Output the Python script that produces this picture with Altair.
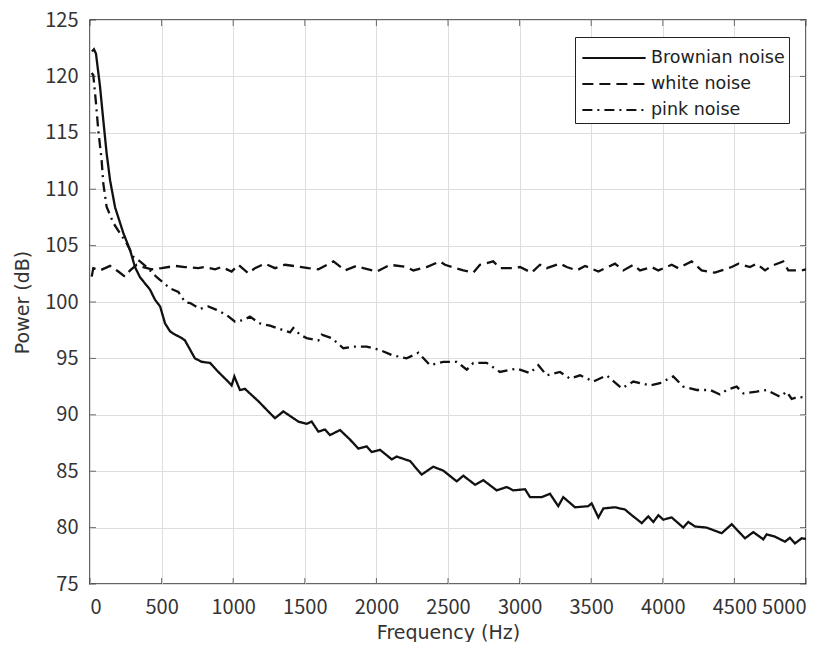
import altair as alt
import pandas as pd

# ---- data ----
brown_f = [14, 28, 42, 70, 93, 116, 140, 175, 233, 280, 314, 349, 419, 454, 490, 524, 559, 582,
           640, 663, 733, 780, 838, 896, 960, 989, 1008, 1047, 1082, 1176, 1245, 1292, 1350,
           1385, 1455, 1513, 1548, 1595, 1641, 1676, 1746, 1816, 1874, 1932, 1967, 2025, 2107,
           2141, 2235, 2316, 2397, 2467, 2561, 2607, 2689, 2747, 2840, 2910, 2956, 3038, 3073,
           3154, 3212, 3270, 3305, 3387, 3480, 3503, 3550, 3585, 3666, 3736, 3783, 3853, 3899,
           3934, 3969, 4004, 4062, 4143, 4178, 4225, 4306, 4411, 4481, 4574, 4632, 4702, 4725,
           4783, 4853, 4888, 4923, 4970, 5000]
brown_db = [122.2, 122.4, 122.0, 119.1, 116.1, 113.2, 110.8, 108.4, 106.1, 104.6, 103.1, 102.2,
            101.1, 100.2, 99.6, 98.1, 97.4, 97.2, 96.8, 96.6, 95.0, 94.7, 94.6, 93.8, 93.0, 92.6,
            93.4, 92.2, 92.3, 91.2, 90.3, 89.7, 90.3, 90.0, 89.4, 89.2, 89.4, 88.5, 88.7, 88.2,
            88.65, 87.8, 87.0, 87.2, 86.7, 86.9, 86.05, 86.3, 85.9, 84.7, 85.4, 85.05, 84.1, 84.6,
            83.8, 84.2, 83.3, 83.6, 83.3, 83.4, 82.7, 82.7, 83.0, 81.9, 82.7, 81.8, 81.9, 82.15,
            80.9, 81.7, 81.8, 81.6, 81.1, 80.4, 81.0, 80.5, 81.1, 80.7, 80.9, 80.0, 80.5, 80.1,
            80.0, 79.5, 80.3, 79.05, 79.6, 78.96, 79.4, 79.2, 78.75, 79.1, 78.6, 79.05, 79.0]

white_f = [12, 23, 70, 140, 198, 244, 280, 326, 372, 431, 500, 594, 663, 756, 803, 873, 919, 989,
           1036, 1106, 1152, 1222, 1292, 1362, 1478, 1525, 1595, 1700, 1781, 1862, 1909, 2002,
           2095, 2211, 2258, 2351, 2444, 2479, 2607, 2677, 2723, 2816, 2863, 2945, 3003, 3084,
           3142, 3189, 3282, 3329, 3399, 3457, 3550, 3666, 3724, 3794, 3841, 3922, 3969, 4062,
           4108, 4201, 4271, 4364, 4411, 4481, 4528, 4609, 4655, 4714, 4760, 4841, 4876, 4970, 5000]
white_db = [102.25, 103.0, 102.8, 103.2, 102.7, 102.25, 102.8, 103.3, 103.1, 102.9, 103.0, 103.2,
            103.1, 103.0, 103.1, 102.9, 103.1, 102.7, 103.3, 102.55, 103.0, 103.4, 103.0, 103.3,
            103.1, 103.0, 102.9, 103.6, 102.8, 103.2, 103.0, 102.7, 103.3, 103.1, 102.8, 103.1,
            103.6, 103.3, 102.8, 102.6, 103.3, 103.6, 103.0, 103.0, 103.1, 102.6, 103.3, 103.0,
            103.4, 103.1, 102.8, 103.2, 102.7, 103.4, 102.8, 103.3, 102.8, 103.1, 102.8, 103.3,
            103.0, 103.6, 102.8, 102.6, 102.8, 103.1, 103.4, 103.1, 103.4, 102.8, 103.2, 103.6,
            102.8, 102.8, 102.9]

pink_f = [12, 23, 42, 58, 81, 93, 116, 163, 209, 256, 303, 349, 396, 466, 559, 617, 663, 700,
          768, 826, 884, 954, 1013, 1071, 1117, 1187, 1257, 1327, 1397, 1420, 1466, 1513, 1595,
          1618, 1688, 1769, 1839, 1932, 2025, 2107, 2211, 2293, 2374, 2467, 2561, 2631, 2677,
          2770, 2863, 2980, 3073, 3131, 3189, 3282, 3352, 3422, 3515, 3608, 3713, 3794, 3911,
          3980, 4073, 4143, 4237, 4330, 4399, 4446, 4516, 4562, 4655, 4725, 4818, 4865, 4900,
          4947, 5000]
pink_db = [120.3, 120.1, 117.6, 115.2, 112.6, 110.5, 108.45, 107.0, 106.1, 105.2, 104.0, 103.6,
           103.1, 102.2, 101.2, 100.9, 100.0, 99.9, 99.4, 99.6, 99.3, 98.85, 98.25, 98.4, 98.7,
           98.1, 97.9, 97.6, 97.3, 97.7, 97.1, 96.8, 96.6, 97.1, 96.8, 95.9, 96.05, 96.05, 95.75,
           95.3, 95.0, 95.5, 94.4, 94.7, 94.7, 94.0, 94.6, 94.6, 93.8, 94.1, 93.7, 94.4, 93.5,
           93.8, 93.2, 93.5, 92.95, 93.5, 92.35, 92.95, 92.6, 92.8, 93.4, 92.5, 92.2, 92.2, 91.8,
           92.2, 92.5, 91.9, 92.05, 92.2, 91.6, 92.05, 91.4, 91.6, 91.5]

series_names = ["Brownian noise", "white noise", "pink noise"]
x_ticks = [0, 500, 1000, 1500, 2000, 2500, 3000, 3500, 4000, 4500, 5000]
y_ticks = [75, 80, 85, 90, 95, 100, 105, 110, 115, 120, 125]

rows = []
for name, fs, ds in zip(series_names, [brown_f, white_f, pink_f], [brown_db, white_db, pink_db]):
    for f, d in zip(fs, ds):
        rows.append({"series": name, "freq": f, "power": d})
df = pd.DataFrame(rows)

NUM_FONT = "Noto Sans CJK JP"
TXT_FONT = "DejaVu Sans"
TXT = "#333333"

xscale = alt.Scale(domain=[0, 5000], nice=False, zero=False)
yscale = alt.Scale(domain=[75, 125], nice=False, zero=False)

lines = alt.Chart(df).mark_line(color="#111111", strokeWidth=2.3, clip=True).encode(
    x=alt.X("freq:Q", scale=xscale,
            axis=alt.Axis(values=x_ticks, title="Frequency (Hz)", format="d",
                          labelPadding=13, titleX=358, titleY=48,
                          titleBaseline="middle", titleAlign="center")),
    y=alt.Y("power:Q", scale=yscale,
            axis=alt.Axis(values=y_ticks, title="Power (dB)", format="d",
                          labelPadding=12, titleX=-68, titleY=282, titleAngle=270,
                          titleBaseline="middle", titleAlign="center")),
    strokeDash=alt.StrokeDash(
        "series:N",
        scale=alt.Scale(domain=series_names, range=[[1, 0], [11, 6], [10, 5, 2, 5]]),
        legend=alt.Legend(title=None, orient="top-right", offset=17,
                          strokeColor="#222222", fillColor="white", padding=4,
                          symbolType="M-2,0L2,0", symbolSize=1000, symbolStrokeWidth=2,
                          symbolStrokeColor="#111111", symbolOffset=18,
                          labelFont=TXT_FONT, labelFontSize=17.5,
                          labelColor="#222222", rowPadding=-1.5, labelOffset=20),
    ),
    order="freq:Q",
)

xt = pd.DataFrame({"freq": x_ticks})
yt = pd.DataFrame({"power": y_ticks})
tick_style = dict(color="#333333", thickness=1, size=6)
tb = alt.Chart(xt).mark_tick(orient="vertical", yOffset=-3, **tick_style).encode(
    x=alt.X("freq:Q", scale=xscale), y=alt.datum(75))
tt = alt.Chart(xt).mark_tick(orient="vertical", yOffset=3, **tick_style).encode(
    x=alt.X("freq:Q", scale=xscale), y=alt.datum(125))
tl = alt.Chart(yt).mark_tick(orient="horizontal", xOffset=3, **tick_style).encode(
    y=alt.Y("power:Q", scale=yscale), x=alt.datum(0))
tr = alt.Chart(yt).mark_tick(orient="horizontal", xOffset=-3, **tick_style).encode(
    y=alt.Y("power:Q", scale=yscale), x=alt.datum(5000))

chart = alt.layer(lines, tb, tt, tl, tr).properties(
    width=716, height=564,
    padding={"left": 82, "top": 12, "right": 17, "bottom": 58},
    autosize=alt.AutoSizeParams(type="none"),
).configure_view(
    stroke="#333333", strokeWidth=1.5
).configure_axis(
    domain=False, ticks=False, grid=True, gridColor="#dedede", gridWidth=1,
    labelFont=NUM_FONT, labelFontSize=20, labelColor=TXT,
    titleFont=TXT_FONT, titleFontSize=19, titleFontWeight="normal", titleColor=TXT,
)

chart.save("out.html", embed_options={"renderer": "svg", "actions": False})
